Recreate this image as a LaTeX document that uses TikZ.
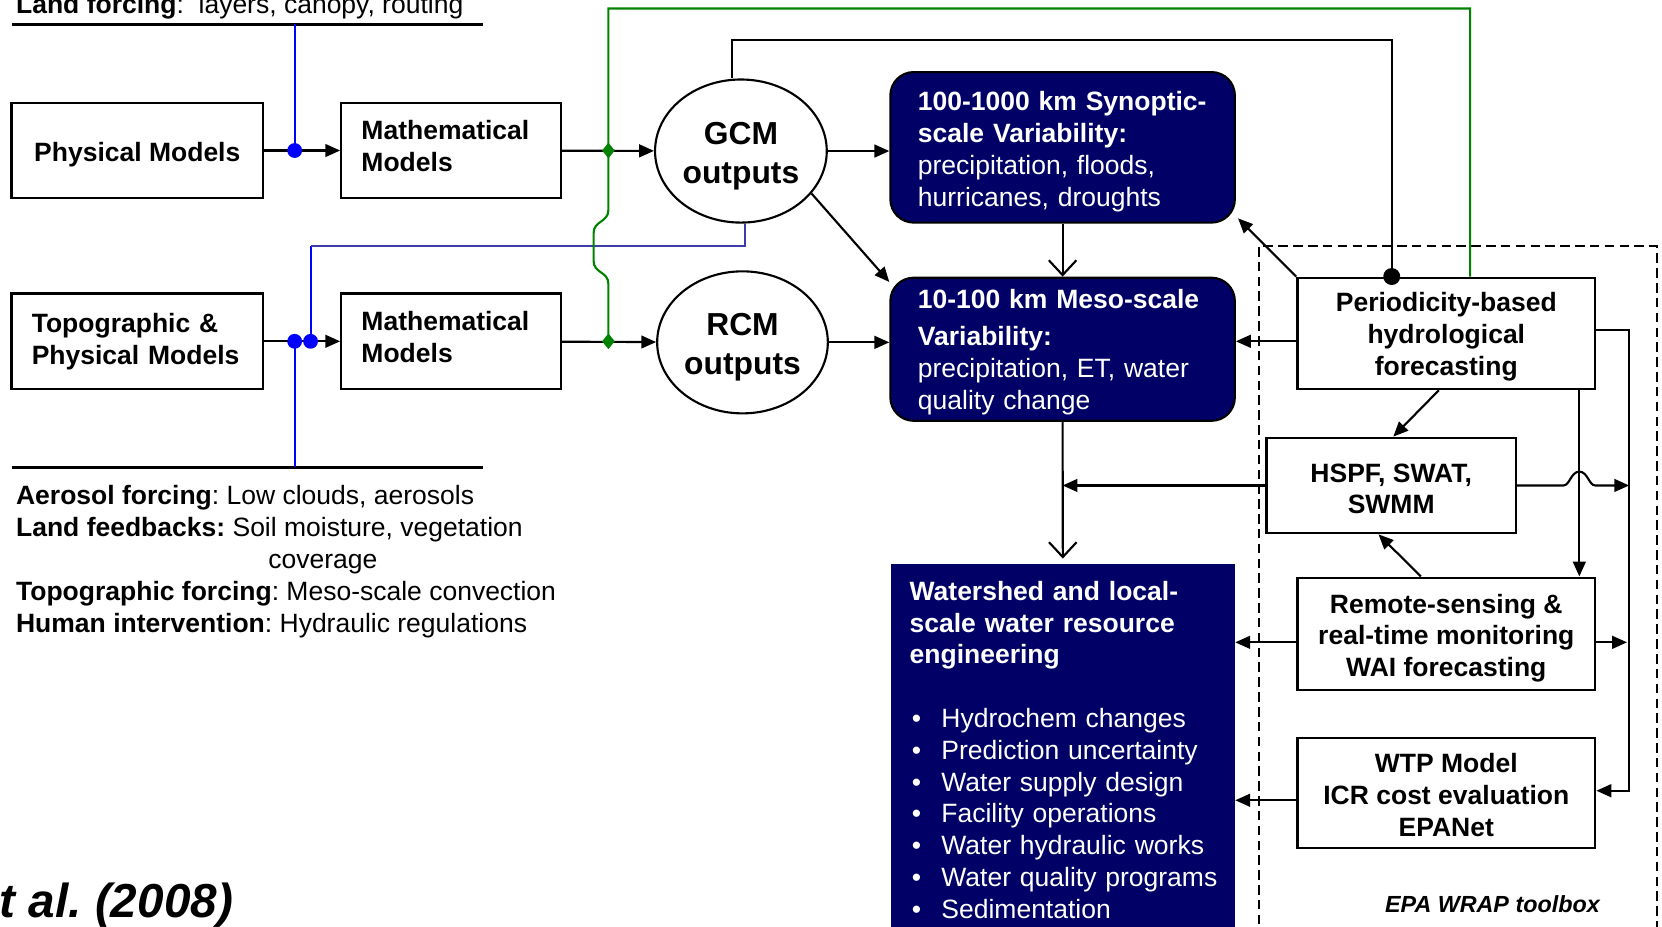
\documentclass[tikz,border=0pt]{standalone}
\usepackage{fontspec}
\setmainfont{Liberation Sans}
\usetikzlibrary{arrows.meta,shapes.geometric,calc}
\definecolor{navy}{RGB}{0,0,102}
\definecolor{gline}{RGB}{0,130,0}
\definecolor{bline}{RGB}{0,0,255}
\definecolor{bline2}{RGB}{60,60,170}
\newcommand\wsitem[1]{\mbox{\makebox[30pt][l]{\hspace{2pt}\textbullet}#1}}
\newcommand\hup[1]{\rule{0pt}{#1}}
\newcommand\dnp[1]{\rule[-#1]{0pt}{#1}}
\frenchspacing
\begin{document}
\begin{tikzpicture}[x=1pt,y=-1pt,
  box/.style={draw, line width=2.2pt, fill=white, inner sep=0pt, font=\bfseries\fontsize{25}{30}\selectfont},
  oval/.style={draw, ellipse, line width=2pt, fill=white, inner sep=0pt, align=center, font=\bfseries\fontsize{30}{37}\selectfont},
  navybox/.style={draw=black, line width=2pt, fill=navy, text=white, rounded corners=22pt, inner sep=0pt, font=\fontsize{25}{30}\selectfont},
  conn/.style={line width=2pt},
  arr/.style={line width=2pt, -{Triangle[length=14pt,width=12pt]}},
  varr/.style={line width=2pt, -{Straight Barb[length=14pt,width=26pt,line width=2pt]}},
  bdot/.style={circle, fill=bline, minimum size=14pt, inner sep=0pt},
  kdot/.style={circle, fill=black, minimum size=16pt, inner sep=0pt},
  gdia/.style={diamond, fill=gline, minimum width=12pt, minimum height=15pt, inner sep=0pt},
  plain/.style={inner sep=0pt, font=\fontsize{25}{30}\selectfont},
]
\useasboundingbox (0,0) rectangle (1568,874);

% helper coordinates
\coordinate (bx1) at (278,0);
\coordinate (bx2) at (293,0);
\coordinate (hy) at (0,232);
\coordinate (gx) at (574,0);
\coordinate (vx) at (1490,0);
\coordinate (vr) at (1537,0);
\coordinate (kt) at (1313,38);
\coordinate (ltl) at (11,23);
\coordinate (ltr) at (456,23);
\coordinate (lbl) at (11,441);
\coordinate (lbr) at (456,441);

% dashed toolbox frame
\coordinate (dbl) at (1188,900);
\coordinate (dtl) at (1188,232);
\coordinate (dtr) at (1563,232);
\coordinate (dbr) at (1563,900);
\draw[line width=2pt, dash pattern=on 9pt off 5pt] (dbl) -- (dtl) -- (dtr) -- (dbr);

% nodes
\node[box, minimum width=237pt, minimum height=90pt] (phys) at (129.5,142) {\hup{26pt}Physical Models};
\node[box, minimum width=207pt, minimum height=90pt, text width=169pt, align=left] (math1) at (425.5,142) {Mathematical\\Models\dnp{8pt}};
\node[box, minimum width=237pt, minimum height=90pt, text width=199pt, align=left] (topo) at (129.5,322) {Topographic \&\\Physical Models};
\node[box, minimum width=207pt, minimum height=90pt, text width=169pt, align=left] (math2) at (425.5,322) {Mathematical\\Models\dnp{8pt}};
\node[oval, minimum width=162pt, minimum height=135pt] (gcm) at (699,142.5) {\hup{31pt}GCM\\outputs};
\node[oval, minimum width=161pt, minimum height=134pt] (rcm) at (700.5,323) {\hup{30pt}RCM\\outputs};
\node[navybox, minimum width=325pt, minimum height=142pt, text width=273pt, align=left] (syn) at (1002.5,139)
  {\hup{26pt}\textbf{100-1000 km Synoptic-}\\\textbf{scale Variability:}\\precipitation, floods,\\hurricanes, droughts};
\node[navybox, minimum width=325pt, minimum height=135pt, text width=273pt, align=left] (meso) at (1002.5,329.5)
  {\hup{24pt}\textbf{10-100 km Meso-scale}\\[5pt]\textbf{Variability:}\\precipitation, ET, water\\quality change};
\node[box, minimum width=281pt, minimum height=105pt, align=center] (per) at (1364.5,314.5) {\hup{25pt}Periodicity-based\\hydrological\\forecasting};
\node[box, minimum width=235pt, minimum height=90pt, align=center] (hspf) at (1312.5,458) {\hup{24pt}HSPF, SWAT,\\SWMM};
\node[box, minimum width=281pt, minimum height=106pt, align=center] (rs) at (1364.5,598) {\hup{26pt}Remote-sensing \&\\real-time monitoring\\WAI forecasting};
\node[box, minimum width=281pt, minimum height=104pt, align=center] (wtp) at (1364.5,748) {\hup{22pt}WTP Model\\ICR cost evaluation\\EPANet};
\node[anchor=north west, fill=navy, text=white, minimum width=325pt, text width=289pt, inner xsep=0pt, inner ysep=16pt, align=left, font=\fontsize{25}{30}\selectfont] (ws) at (840,532)
  {\textbf{Watershed and local-}\\\textbf{scale water resource}\\\textbf{engineering}\\[30pt]
   \wsitem{Hydrochem changes}\\\wsitem{Prediction uncertainty}\\\wsitem{Water supply design}\\
   \wsitem{Facility operations}\\\wsitem{Water hydraulic works}\\\wsitem{Water quality programs}\\
   \wsitem{Sedimentation}};
\fill[navy] (ws.south west) rectangle ([yshift=-40pt]ws.south east);

% texts
\node[plain, anchor=base west] (landf) at (15,13) {\textbf{Land forcing}:\ \ layers, canopy, routing};
\node[plain, anchor=base west] (t1) at (15,476) {\textbf{Aerosol forcing}: Low clouds, aerosols};
\node[plain, anchor=base west] (t2) at (15,506) {\textbf{Land feedbacks:} Soil moisture, vegetation};
\node[plain, anchor=base west] (t3) at (253,536) {coverage};
\node[plain, anchor=base west] (t4) at (15,567) {\textbf{Topographic forcing}: Meso-scale convection};
\node[plain, anchor=base west] (t5) at (15,597) {\textbf{Human intervention}: Hydraulic regulations};
\node[inner sep=0pt, anchor=base, font=\bfseries\itshape\fontsize{22}{26}\selectfont] (epa) at (1408,861) {EPA WRAP toolbox};
\node[inner sep=0pt, anchor=base east, font=\bfseries\itshape\fontsize{45}{50}\selectfont] (cite) at (220,866) {t al. (2008)};

% horizontal rules
\draw[line width=2.4pt] (ltl) -- (ltr);
\draw[line width=2.4pt] (lbl) -- (lbr);

% main arrows
\draw[arr] (phys) -- (math1);
\draw[arr] (topo) -- (math2);
\draw[arr] (math1) -- (gcm);
\draw[arr] (math2) -- (rcm);
\draw[arr] (gcm.east) -- (gcm.east -| syn.west);
\draw[arr] (rcm.east) -- (rcm.east -| meso.west);
\draw[arr] (gcm.-31) -- ([yshift=-5pt]meso.north west);
\draw[varr] (syn.south) -- (meso.north);
\draw[varr] (meso.south) -- ([yshift=5pt]ws.north);
\draw[arr] (hspf.west) -- (hspf.west -| meso.south);
\draw[arr] (per.north west) -- ([xshift=2pt,yshift=5pt]syn.south east);
\coordinate (pw) at ([yshift=-7.5pt]per.west);
\draw[arr] (pw) -- (pw -| meso.east);
\draw[arr] ([xshift=-7pt]per.south) -- ([xshift=2pt]hspf.north);
\draw[arr] ([xshift=-24pt]rs.north) -- ([xshift=-12pt]hspf.south);
\draw[arr] (per.south -| vx) -- (rs.north -| vx);
\draw[arr] (hspf.east) -- (1475,458) .. controls (1481,458) and (1482,445) .. (1490,445)
  .. controls (1498,445) and (1499,458) .. (1505,458) -- (hspf.east -| vr);
\coordinate (rsl) at ([yshift=-8pt]rs.west);
\coordinate (rsr) at ([yshift=-8pt]rs.east);
\draw[arr] (rsl) -- (rsl -| ws.east);
\draw[arr] (rsr) -- ([xshift=-2pt]rsr -| vr);
\coordinate (wl) at ([yshift=-7pt]wtp.west);
\draw[arr] (wl) -- (wl -| ws.east);
\coordinate (pe) at ([yshift=3.5pt]per.east);
\coordinate (we) at ([yshift=2pt]wtp.east);
\draw[arr] (pe) -| (vr |- we) -- (we);

% blue forcing lines
\coordinate (b1) at (phys.east -| bx1);
\coordinate (b2) at (topo.east -| bx1);
\coordinate (b3) at (topo.east -| bx2);
\draw[bline, line width=2pt] (ltl -| bx1) -- (b1);
\draw[bline, line width=2pt] (b2) -- (lbl -| bx1);
\draw[bline, line width=2pt] (b3) -- (b3 |- hy);
\draw[bline2, line width=2pt] (b3 |- hy) -| ([xshift=4pt]gcm.south);
\node[bdot] (bd1) at (b1) {};
\node[bdot] (bd2) at (b2) {};
\node[bdot] (bd3) at (b3) {};

% green feedback line
\coordinate (g1) at (math1.east -| gx);
\coordinate (g2) at (math2.east -| gx);
\draw[gline, line width=2pt] (g2) -- (574,268) .. controls (574,256) and (560,258) .. (560,246) -- (560,220)
  .. controls (560,208) and (574,210) .. (574,198) -- (g1) -- (574,8) -| ([xshift=22.5pt]per.north);
\node[gdia] (gd1) at (g1) {};
\node[gdia] (gd2) at (g2) {};

% black feedback line
\coordinate (pdot) at ([xshift=-51.5pt]per.north);
\draw[conn] ([xshift=-8pt]gcm.north) |- (kt) -- (pdot);
\node[kdot] (kd) at (pdot) {};
\end{tikzpicture}
\end{document}
